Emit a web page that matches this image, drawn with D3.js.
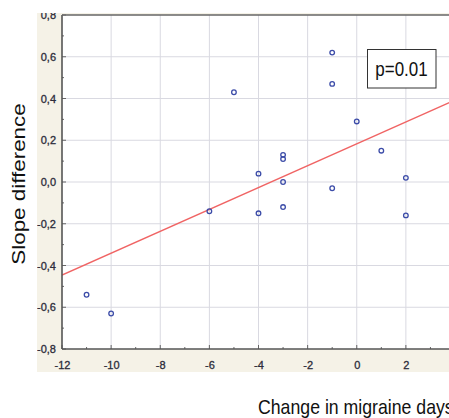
<!DOCTYPE html>
<html>
<head>
<meta charset="utf-8">
<script src="https://cdn.jsdelivr.net/npm/d3@7"></script>
<style>
  html, body { margin: 0; padding: 0; background: #ffffff; }
  svg { display: block; }
</style>
</head>
<body>
<svg id="chart" width="449" height="418"></svg>
<script>
// ---- data ----
const changeDays = [-11, -10, -6, -5, -4, -4, -3, -3, -3, -3, -1, -1, -1, 0, 1, 2, 2];
const slopeDiff  = [-0.54, -0.63, -0.14, 0.43, 0.04, -0.15, 0.13, 0.11, 0.0, -0.12, 0.62, 0.47, -0.03, 0.29, 0.15, 0.02, -0.16];
const xTicks = [-12, -10, -8, -6, -4, -2, 0, 2];
const yTicks = [-0.8, -0.6, -0.4, -0.2, 0.0, 0.2, 0.4, 0.6, 0.8];
const xTitle = "Change in migraine days";
const yTitle = "Slope difference";
const pLabel = "p=0.01";

// ---- layout ----
const svg = d3.select("#chart");
const W = 449, H = 418;
const plotL = 62, plotT = 15, plotB = 349, plotR = 455;

const x = d3.scaleLinear().domain([-12, 4]).range([plotL, plotR]);
const y = d3.scaleLinear().domain([-0.8, 0.8]).range([plotB, plotT]);

// clip for the picture panel (beige region)
const defs = svg.append("defs");
defs.append("clipPath").attr("id", "panelClip")
  .append("rect").attr("x", 37).attr("y", 13).attr("width", W - 37).attr("height", 372 - 13);
defs.append("clipPath").attr("id", "plotClip")
  .append("rect").attr("x", plotL).attr("y", plotT).attr("width", plotR - plotL).attr("height", plotB - plotT);

const panel = svg.append("g").attr("clip-path", "url(#panelClip)");
panel.append("rect").attr("x", 37).attr("y", 13).attr("width", W - 37).attr("height", 372 - 13)
  .attr("fill", "#f5f2e7");
panel.append("rect").attr("x", plotL).attr("y", plotT).attr("width", plotR - plotL).attr("height", plotB - plotT)
  .attr("fill", "#ffffff");

// grid
const grid = panel.append("g");
grid.selectAll("line.gx").data(xTicks.filter(d => d > -12 && d < 4)).enter().append("line")
  .attr("x1", d => x(d)).attr("x2", d => x(d)).attr("y1", plotT).attr("y2", plotB)
  .attr("stroke", "#d9d9e1").attr("stroke-width", 1);
grid.selectAll("line.gy").data(yTicks.filter(d => d > -0.8 && d < 0.8)).enter().append("line")
  .attr("x1", plotL).attr("x2", plotR).attr("y1", d => y(d)).attr("y2", d => y(d))
  .attr("stroke", "#d9d9e1").attr("stroke-width", 1);

// regression line from data
const mx = d3.mean(changeDays), my = d3.mean(slopeDiff);
let sxy = 0, sxx = 0;
changeDays.forEach((v, i) => { sxy += (v - mx) * (slopeDiff[i] - my); sxx += (v - mx) * (v - mx); });
const slope = sxy / sxx, intercept = my - slope * mx;
panel.append("g").attr("clip-path", "url(#plotClip)")
  .append("line")
  .attr("x1", x(-12)).attr("y1", y(intercept + slope * -12))
  .attr("x2", x(4)).attr("y2", y(intercept + slope * 4))
  .attr("stroke", "#f06464").attr("stroke-width", 1.4);

// points
panel.append("g").selectAll("circle").data(changeDays).enter().append("circle")
  .attr("cx", d => x(d)).attr("cy", (d, i) => y(slopeDiff[i]))
  .attr("r", 2.3).attr("fill", "none").attr("stroke", "#3c4ca8").attr("stroke-width", 1.3);

// axes
const fmtY = d => d3.format(".1f")(d).replace(".", ",").replace("−", "-");
const xAxis = d3.axisBottom(x).tickValues(xTicks).tickSize(0).tickPadding(12).tickFormat(d3.format("d"));
const yAxis = d3.axisLeft(y).tickValues(yTicks).tickSize(0).tickPadding(6).tickFormat(fmtY);

const gx = panel.append("g").attr("transform", `translate(0,${plotB})`).call(xAxis);
const gy = panel.append("g").attr("transform", `translate(${plotL},0)`).call(yAxis);
[gx, gy].forEach(g => {
  g.select(".domain").remove();
  g.selectAll("text")
    .attr("font-family", "'Liberation Sans Narrow', 'Arial Narrow', sans-serif")
    .attr("font-size", 11).attr("fill", "#2c2c3a")
    .attr("stroke", "#2c2c3a").attr("stroke-width", 0.3);
});
gx.selectAll("text").text(d => d3.format("d")(d).replace("−", "-"));

// inward ticks: major & minor
const tk = panel.append("g").attr("stroke", "#666").attr("stroke-width", 1);
d3.range(-12, 4.01, 1).forEach(v => {
  const len = (Math.round(v) % 2 === 0) ? 4 : 2;
  tk.append("line").attr("x1", x(v)).attr("x2", x(v)).attr("y1", plotB).attr("y2", plotB - len);
});
d3.range(-8, 8.01, 1).forEach(k => {
  const v = k / 10, len = (k % 2 === 0) ? 4 : 2;
  tk.append("line").attr("x1", plotL).attr("x2", plotL + len).attr("y1", y(v)).attr("y2", y(v));
});

// axis frame lines
panel.append("line").attr("x1", plotL).attr("x2", plotR).attr("y1", plotB).attr("y2", plotB)
  .attr("stroke", "#555").attr("stroke-width", 1.6);
panel.append("line").attr("x1", plotL).attr("x2", plotL).attr("y1", plotT).attr("y2", plotB)
  .attr("stroke", "#555").attr("stroke-width", 1.6);
panel.append("line").attr("x1", plotL).attr("x2", plotR).attr("y1", plotT).attr("y2", plotT)
  .attr("stroke", "#666").attr("stroke-width", 1.4);

// p-value box
panel.append("rect").attr("x", 367.5).attr("y", 49.5).attr("width", 68.5).attr("height", 38.5)
  .attr("fill", "#ffffff").attr("stroke", "#333").attr("stroke-width", 1);
panel.append("text").attr("transform", "translate(401.5,76) scale(0.87,1)")
  .attr("text-anchor", "middle").attr("font-family", "'Liberation Sans', Arial, sans-serif")
  .attr("font-size", 19.5).attr("fill", "#111").text(pLabel);

// axis titles
svg.append("text").attr("transform", "translate(258,414) scale(0.885,1)")
  .attr("font-family", "'Liberation Sans', Arial, sans-serif").attr("font-size", 20)
  .attr("fill", "#111").text(xTitle);
svg.append("text").attr("transform", "translate(24.5,184) scale(0.78,1) rotate(-90)")
  .attr("text-anchor", "middle")
  .attr("font-family", "'Liberation Sans', Arial, sans-serif").attr("font-size", 22.4)
  .attr("fill", "#111").text(yTitle);
</script>
</body>
</html>
